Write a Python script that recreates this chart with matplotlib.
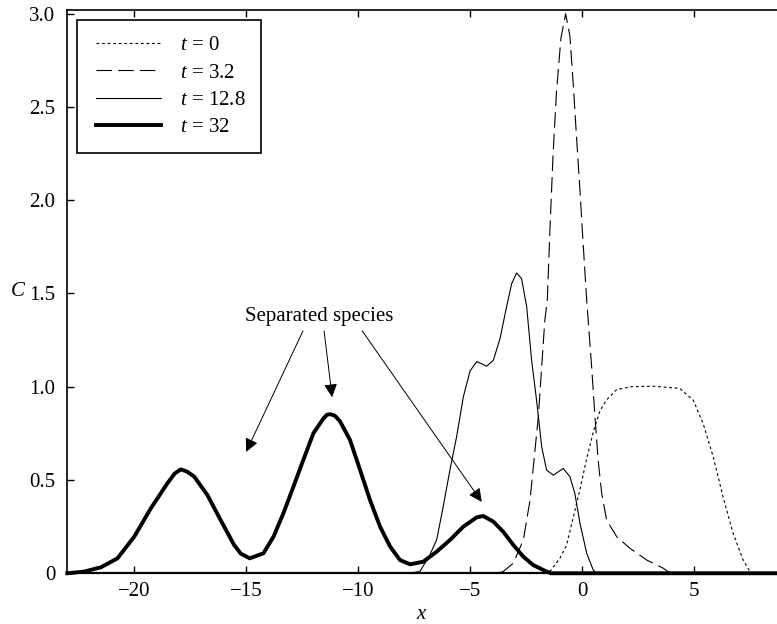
import matplotlib
matplotlib.use('Agg')
import matplotlib.pyplot as plt
from matplotlib.ticker import FuncFormatter
from matplotlib.lines import Line2D
from matplotlib.legend_handler import HandlerLine2D

plt.rcParams['font.family'] = ['Liberation Serif', 'DejaVu Serif']
plt.rcParams['mathtext.fontset'] = 'custom'
plt.rcParams['mathtext.rm'] = 'Liberation Serif'
plt.rcParams['mathtext.it'] = 'Liberation Serif:italic'
plt.rcParams['font.size'] = 15

# concentration profiles
x_t0 = [-23, -1.5, -1.44, -1.0, -0.70, -0.40, -0.10, 0.20, 0.50, 0.79, 1.09, 1.54, 2.2,
        3.17, 4.36, 4.96, 5.40, 5.85, 6.29, 6.74, 7.19, 7.49, 7.6, 9]
c_t0 = [0, 0, 0.01, 0.08, 0.15, 0.30, 0.45, 0.615, 0.76, 0.87, 0.93, 0.985, 1.0,
        1.003, 0.991, 0.928, 0.803, 0.625, 0.41, 0.214, 0.071, 0.009, 0, 0]

x_t32a = [-23, -3.8, -3.53, -3.08, -2.63, -2.33, -2.11, -1.96, -1.81, -1.67, -1.56, -1.44,
          -1.30, -1.15, -0.95, -0.74, -0.55, -0.40, -0.25, -0.10, 0.05, 0.20, 0.42, 0.57,
          0.71, 0.87, 1.09, 1.54, 2.13, 2.88, 3.62, 3.94, 9]
c_t32a = [0, 0, 0.009, 0.054, 0.178, 0.393, 0.660, 0.839, 1.107, 1.357, 1.464, 1.85,
          2.25, 2.58, 2.87, 3.0, 2.88, 2.62, 2.33, 2.05, 1.75, 1.464, 1.107, 0.839,
          0.607, 0.428, 0.285, 0.196, 0.134, 0.071, 0.027, 0, 0]

x_t128 = [-23, -7.8, -7.25, -6.80, -6.50, -6.21, -5.91, -5.61, -5.31, -5.01, -4.71, -4.27,
          -3.97, -3.67, -3.38, -3.15, -2.93, -2.71, -2.48, -2.26, -2.04, -1.81, -1.59,
          -1.29, -0.85, -0.55, -0.33, -0.10, 0.20, 0.49, 0.64, 9]
c_t128 = [0, 0, 0.009, 0.10, 0.18, 0.357, 0.553, 0.732, 0.946, 1.085, 1.135, 1.11,
          1.142, 1.259, 1.428, 1.553, 1.610, 1.580, 1.428, 1.142, 0.928, 0.678, 0.553,
          0.526, 0.562, 0.518, 0.428, 0.268, 0.107, 0.018, 0, 0]

x_t32 = [-23, -22.25, -21.5, -20.76, -20.01, -19.27, -18.53, -18.2, -17.93, -17.65, -17.33,
         -16.74, -16.15, -15.55, -15.25, -14.85, -14.24, -13.79, -13.35, -12.90, -12.46,
         -12.01, -11.56, -11.4, -11.26, -11.05, -10.82, -10.37, -9.92, -9.48, -9.03, -8.58,
         -8.14, -7.69, -7.10, -6.50, -5.91, -5.31, -4.71, -4.42, -3.97, -3.53, -3.08,
         -2.63, -2.19, -1.59, -1.4, 9]
c_t32 = [0, 0.009, 0.032, 0.080, 0.196, 0.348, 0.482, 0.535, 0.557, 0.545, 0.518,
         0.419, 0.285, 0.152, 0.105, 0.080, 0.107, 0.196, 0.321, 0.464, 0.607,
         0.750, 0.830, 0.850, 0.853, 0.845, 0.815, 0.714, 0.553, 0.393, 0.250, 0.143,
         0.071, 0.048, 0.062, 0.116, 0.178, 0.250, 0.300, 0.307, 0.277, 0.223, 0.152,
         0.089, 0.044, 0.009, 0, 0]

labels = ['$t$ = 0', '$t$ = 3.2', '$t$ = 12.8', '$t$ = 32']

fig = plt.figure(figsize=(7.77, 6.24), dpi=100)
ax = fig.add_axes([0.0866, 0.0813, 0.9134, 0.9027])

ax.plot(x_t0, c_t0, color='k', lw=0.8, dashes=(2.5, 2.5), label=labels[0])
ax.plot(x_t32a, c_t32a, color='k', lw=0.8, dashes=(14, 5.5), label=labels[1])
ax.plot(x_t128, c_t128, color='k', lw=0.8, label=labels[2])
ax.plot(x_t32, c_t32, color='k', lw=2.8, label=labels[3], clip_on=False)

ax.set_xlim(-23, 8.7)
ax.set_ylim(0, 3.02)
ax.set_xticks([-20, -15, -10, -5, 0, 5])
ax.set_yticks([0, 0.5, 1.0, 1.5, 2.0, 2.5, 3.0])
ax.yaxis.set_major_formatter(FuncFormatter(lambda v, p: '0' if v == 0 else '%.1f' % v))
ax.tick_params(direction='in', top=True, right=False, length=5, width=1)
ax.tick_params(axis='x', pad=6)
ax.tick_params(axis='y', pad=8.5)
ax.spines['right'].set_visible(False)
for s in ['left', 'top']:
    ax.spines[s].set_linewidth(1.2)
ax.spines['bottom'].set_linewidth(1.6)

ax.set_xlabel('$x$', labelpad=3)
ax.set_ylabel('$C$', rotation=0, labelpad=8, va='center')

# annotation
ax.text(-11.75, 1.354, 'Separated species', ha='center', va='baseline')
tips = [(-15.01, 0.651), (-11.17, 0.944), (-4.49, 0.383)]
starts = [(-12.47, 1.30), (-11.53, 1.30), (-9.83, 1.30)]
for s, t in zip(starts, tips):
    ax.annotate('', xy=t, xytext=s,
                arrowprops=dict(arrowstyle='-|>', color='k', lw=0.7,
                                mutation_scale=20, shrinkA=0, shrinkB=0))

leg = ax.legend(loc='upper left', bbox_to_anchor=(0.0137, 0.982), borderaxespad=0,
                fancybox=False, edgecolor='k', framealpha=1, handlelength=3.27,
                handletextpad=0.93, labelspacing=0.37, borderpad=0.75,
                handler_map={Line2D: HandlerLine2D(xpad=0.16)})
leg.get_frame().set_linewidth(1.2)

fig.savefig('out.png', dpi=100)
